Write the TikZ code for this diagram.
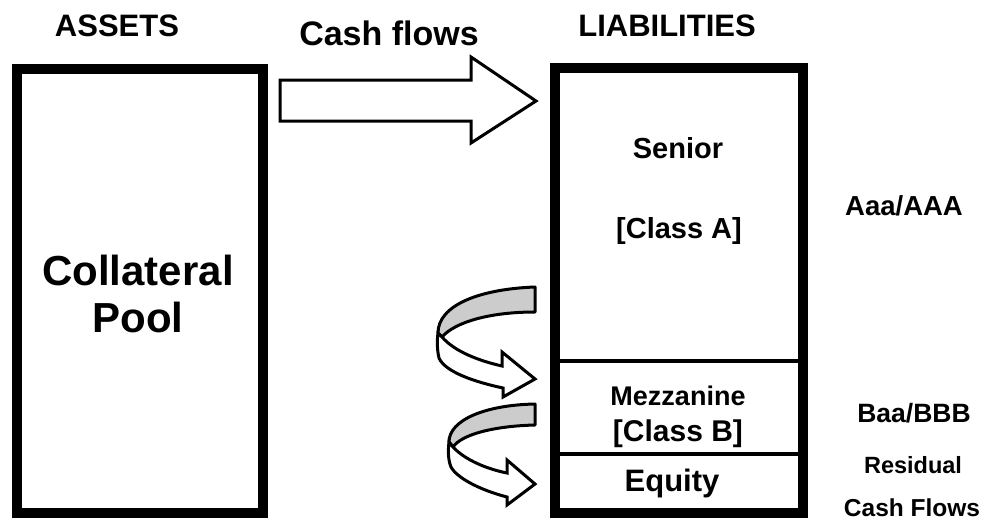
\documentclass[tikz,border=0pt]{standalone}
\usepackage{fontspec}
\setmainfont{Liberation Sans}
\begin{document}
\begin{tikzpicture}[x=1pt,y=-1pt,
  box/.style={draw, line width=10pt, inner sep=0},
  lbl/.style={inner sep=0, anchor=base},
  tier/.style={line width=4pt},
  blockarrow/.style={draw, line width=3pt, fill=white, line join=miter},
  backband/.style={draw, line width=3pt, fill=gray!40, line join=round},
]
\useasboundingbox (0,0) rectangle (995,520);
% boxes
\node[box, minimum width=246.5pt, minimum height=444pt] (pool) at (139.75,291) {};
\node[box, minimum width=248.5pt, minimum height=445.5pt] (liab) at (678.75,290.25) {};
\draw[tier] (liab.west |- 0,361) -- (liab.east |- 0,361);
\draw[tier] (liab.west |- 0,454) -- (liab.east |- 0,454);
% headings
\node[lbl, font=\fontsize{31}{36}\selectfont\bfseries] (assets) at (117,36) {ASSETS};
\node[lbl, font=\fontsize{34}{39}\selectfont\bfseries] (cf) at (389,45) {Cash flows};
\node[lbl, font=\fontsize{31}{36}\selectfont\bfseries] (liabt) at (667,36) {LIABILITIES};
% pool text
\node[lbl, font=\fontsize{42}{48}\selectfont\bfseries] (coll) at (138,285) {Collateral};
\node[lbl, font=\fontsize{42}{48}\selectfont\bfseries] (poolt) at (138,332) {Pool};
% tranche texts
\node[lbl, font=\fontsize{29}{34}\selectfont\bfseries] (senior) at (678,158) {Senior};
\node[lbl, font=\fontsize{29}{34}\selectfont\bfseries] (classa) at (679,238) {[Class A]};
\node[lbl, font=\fontsize{27.5}{33}\selectfont\bfseries] (aaa) at (904,215) {Aaa/AAA};
\node[lbl, font=\fontsize{27}{32}\selectfont\bfseries] (mezz) at (678,405) {Mezzanine};
\node[lbl, font=\fontsize{30}{35}\selectfont\bfseries] (classb) at (678,441) {[Class B]};
\node[lbl, font=\fontsize{31}{36}\selectfont\bfseries] (equity) at (672,491) {Equity};
\node[lbl, font=\fontsize{26.5}{31}\selectfont\bfseries] (baa) at (914,422) {Baa/BBB};
\node[lbl, font=\fontsize{23.5}{28}\selectfont\bfseries] (resid) at (913,473) {Residual};
\node[lbl, font=\fontsize{24.5}{29}\selectfont\bfseries] (rcf) at (912,516) {Cash Flows};
% big block arrow
\draw[blockarrow] (280,80) -- (471,80) -- (471,57) -- (536,101) -- (471,143) -- (471,121) -- (280,121) -- cycle;
% upper curved arrow
\draw[backband] (535,287) .. controls (480,289) and (438,305) .. (438,333)
  -- (442,337) .. controls (455,322) and (490,312) .. (535,312) -- cycle;
\draw[blockarrow] (438,333) -- (442,337) .. controls (455,352) and (480,361) .. (502,366)
  -- (502,352) -- (535,379) -- (503,397) -- (503,388)
  .. controls (475,382) and (445,372) .. (439,358)
  .. controls (437,350) and (437,340) .. (438,333) -- cycle;
% lower curved arrow
\draw[backband] (535,404) .. controls (485,405) and (449,420) .. (449,442)
  -- (453,447) .. controls (462,434) and (495,426) .. (535,425) -- cycle;
\draw[blockarrow] (449,442) -- (453,447) .. controls (465,460) and (487,469) .. (507,473)
  -- (507,460) -- (535,484) -- (507,505) -- (507,497)
  .. controls (480,490) and (457,478) .. (451,467)
  .. controls (448,460) and (448,450) .. (449,442) -- cycle;
\end{tikzpicture}
\end{document}
